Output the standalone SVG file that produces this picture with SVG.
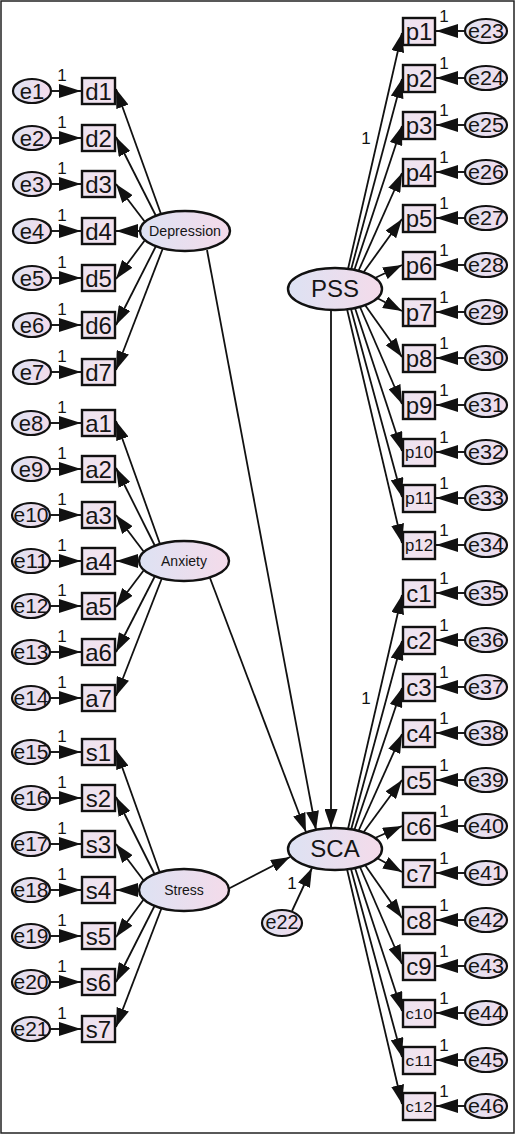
<svg xmlns="http://www.w3.org/2000/svg" width="516" height="1135" viewBox="0 0 516 1135">
<style>
text{font-family:"Liberation Sans",Arial,sans-serif;fill:#151515}
.box{fill:url(#gb);stroke:#111;stroke-width:2.4}
.lat{fill:url(#ge);stroke:#111;stroke-width:2.4}
.err{fill:url(#ge);stroke:#111;stroke-width:2.2}
.le{stroke:#111;stroke-width:1.9;fill:none;marker-end:url(#ah)}
.ll{stroke:#111;stroke-width:1.8;fill:none;marker-end:url(#al)}
.one{font-size:17px;text-anchor:middle;fill:#111}
.bt{font-size:24px;text-anchor:middle}
.bs{font-size:17px;text-anchor:middle}
.bc{font-size:15px;text-anchor:middle}
.et{font-size:22px;text-anchor:middle}
.e3{font-size:20px;text-anchor:middle}
.lt{font-size:14px;text-anchor:middle}
.big{font-size:24px;text-anchor:middle}
</style>
<defs>
<linearGradient id="ge" x1="0" y1="0" x2="1" y2="0"><stop offset="0" stop-color="#dde2f3"/><stop offset="1" stop-color="#f4dbea"/></linearGradient>
<linearGradient id="gb" x1="0" y1="0" x2="1" y2="0"><stop offset="0" stop-color="#ece4f1"/><stop offset="1" stop-color="#f5e1ec"/></linearGradient>
<marker id="ah" viewBox="0 0 22 14" refX="22" refY="7" markerWidth="22" markerHeight="14" markerUnits="userSpaceOnUse" orient="auto"><path d="M0,0 L22,7 L0,14 z" fill="#111"/></marker>
<marker id="al" viewBox="0 0 19 13" refX="19" refY="6.5" markerWidth="19" markerHeight="13" markerUnits="userSpaceOnUse" orient="auto"><path d="M0,0 L19,6.5 L0,13 z" fill="#111"/></marker>
</defs>
<rect x="1" y="1" width="513" height="1132" fill="#fff" stroke="#222" stroke-width="1.5"/>
<g id="connectors">
<line class="le" x1="51" y1="91" x2="81" y2="91"/><line class="le" x1="51" y1="138" x2="81" y2="138"/><line class="le" x1="51" y1="184" x2="81" y2="184"/><line class="le" x1="51" y1="231" x2="81" y2="231"/><line class="le" x1="51" y1="278" x2="81" y2="278"/><line class="le" x1="51" y1="325" x2="81" y2="325"/><line class="le" x1="51" y1="372" x2="81" y2="372"/>
<line class="le" x1="51" y1="423" x2="81" y2="423"/><line class="le" x1="51" y1="469" x2="81" y2="469"/><line class="le" x1="51" y1="515" x2="81" y2="515"/><line class="le" x1="51" y1="561" x2="81" y2="561"/><line class="le" x1="51" y1="606" x2="81" y2="606"/><line class="le" x1="51" y1="652" x2="81" y2="652"/><line class="le" x1="51" y1="698" x2="81" y2="698"/>
<line class="le" x1="51" y1="752" x2="81" y2="752"/><line class="le" x1="51" y1="798" x2="81" y2="798"/><line class="le" x1="51" y1="844" x2="81" y2="844"/><line class="le" x1="51" y1="890" x2="81" y2="890"/><line class="le" x1="51" y1="936" x2="81" y2="936"/><line class="le" x1="51" y1="982" x2="81" y2="982"/><line class="le" x1="51" y1="1029" x2="81" y2="1029"/>
<g class="one"><text x="62" y="81">1</text><text x="62" y="128">1</text><text x="62" y="174">1</text><text x="62" y="221">1</text><text x="62" y="268">1</text><text x="62" y="315">1</text><text x="62" y="362">1</text>
<text x="62" y="413">1</text><text x="62" y="459">1</text><text x="62" y="505">1</text><text x="62" y="551">1</text><text x="62" y="596">1</text><text x="62" y="642">1</text><text x="62" y="688">1</text>
<text x="62" y="742">1</text><text x="62" y="788">1</text><text x="62" y="834">1</text><text x="62" y="880">1</text><text x="62" y="926">1</text><text x="62" y="972">1</text><text x="62" y="1019">1</text></g>
<line class="ll" x1="161" y1="214" x2="116" y2="89"/><line class="ll" x1="156" y1="216" x2="116" y2="137"/><line class="ll" x1="145" y1="222" x2="116" y2="184"/><line class="le" x1="140" y1="231" x2="116" y2="231"/><line class="ll" x1="145" y1="240" x2="116" y2="279"/><line class="ll" x1="156" y1="246" x2="116" y2="325"/><line class="ll" x1="163" y1="248" x2="116" y2="370"/>
<line class="ll" x1="160" y1="544" x2="116" y2="421"/><line class="ll" x1="155" y1="546" x2="116" y2="468"/><line class="ll" x1="144" y1="552" x2="116" y2="515"/><line class="le" x1="139" y1="561" x2="116" y2="561"/><line class="ll" x1="144" y1="570" x2="116" y2="607"/><line class="ll" x1="155" y1="576" x2="116" y2="652"/><line class="ll" x1="162" y1="578" x2="116" y2="696"/>
<line class="ll" x1="160" y1="873" x2="116" y2="750"/><line class="ll" x1="155" y1="875" x2="116" y2="797"/><line class="ll" x1="144" y1="881" x2="116" y2="844"/><line class="le" x1="139" y1="890" x2="116" y2="890"/><line class="ll" x1="144" y1="899" x2="116" y2="937"/><line class="ll" x1="155" y1="905" x2="116" y2="982"/><line class="ll" x1="162" y1="907" x2="116" y2="1027"/>
<line class="ll" x1="207" y1="250" x2="316" y2="830"/>
<line class="ll" x1="210" y1="578" x2="306" y2="832"/>
<line class="ll" x1="228" y1="889" x2="290" y2="857"/>
<line class="ll" x1="331" y1="310" x2="331" y2="828"/>
<line class="ll" x1="292" y1="911" x2="312" y2="868"/>
<text class="one" x="292" y="889">1</text>
<line class="ll" x1="348" y1="269" x2="402" y2="33"/><line class="ll" x1="351" y1="270" x2="402" y2="79"/><line class="ll" x1="354" y1="271" x2="402" y2="126"/><line class="ll" x1="358" y1="272" x2="402" y2="173"/><line class="ll" x1="363" y1="273" x2="402" y2="219"/><line class="ll" x1="375" y1="278" x2="402" y2="265"/><line class="ll" x1="377" y1="298" x2="402" y2="311"/><line class="ll" x1="365" y1="305" x2="402" y2="357"/><line class="ll" x1="360" y1="307" x2="402" y2="404"/><line class="ll" x1="355" y1="308" x2="402" y2="451"/><line class="ll" x1="351" y1="309" x2="402" y2="497"/><line class="ll" x1="347" y1="309" x2="402" y2="543"/>
<text class="one" x="366" y="144">1</text>
<line class="ll" x1="348" y1="829" x2="402" y2="595"/><line class="ll" x1="351" y1="830" x2="402" y2="641"/><line class="ll" x1="354" y1="831" x2="402" y2="688"/><line class="ll" x1="358" y1="832" x2="402" y2="734"/><line class="ll" x1="363" y1="833" x2="402" y2="780"/><line class="ll" x1="375" y1="838" x2="402" y2="826"/><line class="ll" x1="377" y1="858" x2="402" y2="872"/><line class="ll" x1="365" y1="865" x2="402" y2="918"/><line class="ll" x1="360" y1="867" x2="402" y2="964"/><line class="ll" x1="355" y1="868" x2="402" y2="1011"/><line class="ll" x1="351" y1="869" x2="402" y2="1057"/><line class="ll" x1="347" y1="869" x2="402" y2="1104"/>
<text class="one" x="366" y="704">1</text>
<line class="le" x1="465" y1="31" x2="436" y2="31"/><line class="le" x1="465" y1="78" x2="436" y2="78"/><line class="le" x1="465" y1="125" x2="436" y2="125"/><line class="le" x1="465" y1="172" x2="436" y2="172"/><line class="le" x1="465" y1="218" x2="436" y2="218"/><line class="le" x1="465" y1="265" x2="436" y2="265"/><line class="le" x1="465" y1="312" x2="436" y2="312"/><line class="le" x1="465" y1="358" x2="436" y2="358"/><line class="le" x1="465" y1="405" x2="436" y2="405"/><line class="le" x1="465" y1="452" x2="436" y2="452"/><line class="le" x1="465" y1="498" x2="436" y2="498"/><line class="le" x1="465" y1="545" x2="436" y2="545"/>
<line class="le" x1="465" y1="593" x2="436" y2="593"/><line class="le" x1="465" y1="640" x2="436" y2="640"/><line class="le" x1="465" y1="687" x2="436" y2="687"/><line class="le" x1="465" y1="733" x2="436" y2="733"/><line class="le" x1="465" y1="780" x2="436" y2="780"/><line class="le" x1="465" y1="826" x2="436" y2="826"/><line class="le" x1="465" y1="873" x2="436" y2="873"/><line class="le" x1="465" y1="920" x2="436" y2="920"/><line class="le" x1="465" y1="966" x2="436" y2="966"/><line class="le" x1="465" y1="1013" x2="436" y2="1013"/><line class="le" x1="465" y1="1060" x2="436" y2="1060"/><line class="le" x1="465" y1="1106" x2="436" y2="1106"/>
<g class="one"><text x="444" y="22">1</text><text x="444" y="69">1</text><text x="444" y="116">1</text><text x="444" y="163">1</text><text x="444" y="209">1</text><text x="444" y="256">1</text><text x="444" y="303">1</text><text x="444" y="349">1</text><text x="444" y="396">1</text><text x="444" y="443">1</text><text x="444" y="489">1</text><text x="444" y="536">1</text>
<text x="444" y="584">1</text><text x="444" y="631">1</text><text x="444" y="678">1</text><text x="444" y="724">1</text><text x="444" y="771">1</text><text x="444" y="817">1</text><text x="444" y="864">1</text><text x="444" y="911">1</text><text x="444" y="957">1</text><text x="444" y="1004">1</text><text x="444" y="1051">1</text><text x="444" y="1097">1</text></g>
</g>
<g id="Depression"><ellipse class="lat" cx="185" cy="231" rx="45" ry="20"/><text class="lt" x="185" y="236" textLength="72" lengthAdjust="spacingAndGlyphs">Depression</text></g>
<g id="Anxiety"><ellipse class="lat" cx="184" cy="561" rx="45" ry="20"/><text class="lt" x="184" y="566">Anxiety</text></g>
<g id="Stress"><ellipse class="lat" cx="184" cy="890" rx="45" ry="21"/><text class="lt" x="184" y="895">Stress</text></g>
<g id="PSS"><ellipse class="lat" cx="335" cy="289" rx="47" ry="21"/><text class="big" x="335" y="297">PSS</text></g>
<g id="SCA"><ellipse class="lat" cx="335" cy="849" rx="47" ry="21"/><text class="big" x="335" y="857">SCA</text></g>
<g id="e22"><ellipse class="err" cx="282" cy="923" rx="20" ry="13"/><text class="e3" x="282" y="929" font-size="18" textLength="33" lengthAdjust="spacingAndGlyphs">e22</text></g>
<g id="d1"><rect class="box" x="82" y="78" width="33" height="26"/><text class="bt" x="98.5" y="100">d1</text></g>
<g id="d2"><rect class="box" x="82" y="125" width="33" height="26"/><text class="bt" x="98.5" y="147">d2</text></g>
<g id="d3"><rect class="box" x="82" y="171" width="33" height="26"/><text class="bt" x="98.5" y="193">d3</text></g>
<g id="d4"><rect class="box" x="82" y="218" width="33" height="26"/><text class="bt" x="98.5" y="240">d4</text></g>
<g id="d5"><rect class="box" x="82" y="265" width="33" height="26"/><text class="bt" x="98.5" y="287">d5</text></g>
<g id="d6"><rect class="box" x="82" y="312" width="33" height="26"/><text class="bt" x="98.5" y="334">d6</text></g>
<g id="d7"><rect class="box" x="82" y="359" width="33" height="26"/><text class="bt" x="98.5" y="381">d7</text></g>
<g id="a1"><rect class="box" x="82" y="410" width="33" height="26"/><text class="bt" x="98.5" y="432">a1</text></g>
<g id="a2"><rect class="box" x="82" y="456" width="33" height="26"/><text class="bt" x="98.5" y="478">a2</text></g>
<g id="a3"><rect class="box" x="82" y="502" width="33" height="26"/><text class="bt" x="98.5" y="524">a3</text></g>
<g id="a4"><rect class="box" x="82" y="548" width="33" height="26"/><text class="bt" x="98.5" y="570">a4</text></g>
<g id="a5"><rect class="box" x="82" y="593" width="33" height="26"/><text class="bt" x="98.5" y="615">a5</text></g>
<g id="a6"><rect class="box" x="82" y="639" width="33" height="26"/><text class="bt" x="98.5" y="661">a6</text></g>
<g id="a7"><rect class="box" x="82" y="685" width="33" height="26"/><text class="bt" x="98.5" y="707">a7</text></g>
<g id="s1"><rect class="box" x="82" y="739" width="33" height="26"/><text class="bt" x="98.5" y="761">s1</text></g>
<g id="s2"><rect class="box" x="82" y="785" width="33" height="26"/><text class="bt" x="98.5" y="807">s2</text></g>
<g id="s3"><rect class="box" x="82" y="831" width="33" height="26"/><text class="bt" x="98.5" y="853">s3</text></g>
<g id="s4"><rect class="box" x="82" y="877" width="33" height="26"/><text class="bt" x="98.5" y="899">s4</text></g>
<g id="s5"><rect class="box" x="82" y="923" width="33" height="26"/><text class="bt" x="98.5" y="945">s5</text></g>
<g id="s6"><rect class="box" x="82" y="969" width="33" height="26"/><text class="bt" x="98.5" y="991">s6</text></g>
<g id="s7"><rect class="box" x="82" y="1016" width="33" height="26"/><text class="bt" x="98.5" y="1038">s7</text></g>
<g id="e1"><ellipse class="err" cx="32" cy="91" rx="19" ry="12"/><text class="et" x="32" y="99">e1</text></g>
<g id="e2"><ellipse class="err" cx="32" cy="138" rx="19" ry="12"/><text class="et" x="32" y="146">e2</text></g>
<g id="e3"><ellipse class="err" cx="32" cy="184" rx="19" ry="12"/><text class="et" x="32" y="192">e3</text></g>
<g id="e4"><ellipse class="err" cx="32" cy="231" rx="19" ry="12"/><text class="et" x="32" y="239">e4</text></g>
<g id="e5"><ellipse class="err" cx="32" cy="278" rx="19" ry="12"/><text class="et" x="32" y="286">e5</text></g>
<g id="e6"><ellipse class="err" cx="32" cy="325" rx="19" ry="12"/><text class="et" x="32" y="333">e6</text></g>
<g id="e7"><ellipse class="err" cx="32" cy="372" rx="19" ry="12"/><text class="et" x="32" y="380">e7</text></g>
<g id="e8"><ellipse class="err" cx="31" cy="423" rx="19" ry="12"/><text class="et" x="31" y="431">e8</text></g>
<g id="e9"><ellipse class="err" cx="31" cy="469" rx="19" ry="12"/><text class="et" x="31" y="477">e9</text></g>
<g id="e10"><ellipse class="err" cx="31" cy="515" rx="19" ry="12"/><text class="e3" x="31" y="522" textLength="35" lengthAdjust="spacingAndGlyphs">e10</text></g>
<g id="e11"><ellipse class="err" cx="31" cy="561" rx="19" ry="12"/><text class="e3" x="31" y="568" textLength="35" lengthAdjust="spacingAndGlyphs">e11</text></g>
<g id="e12"><ellipse class="err" cx="31" cy="606" rx="19" ry="12"/><text class="e3" x="31" y="613" textLength="35" lengthAdjust="spacingAndGlyphs">e12</text></g>
<g id="e13"><ellipse class="err" cx="31" cy="652" rx="19" ry="12"/><text class="e3" x="31" y="659" textLength="35" lengthAdjust="spacingAndGlyphs">e13</text></g>
<g id="e14"><ellipse class="err" cx="31" cy="698" rx="19" ry="12"/><text class="e3" x="31" y="705" textLength="35" lengthAdjust="spacingAndGlyphs">e14</text></g>
<g id="e15"><ellipse class="err" cx="31" cy="752" rx="19" ry="12"/><text class="e3" x="31" y="759" textLength="35" lengthAdjust="spacingAndGlyphs">e15</text></g>
<g id="e16"><ellipse class="err" cx="31" cy="798" rx="19" ry="12"/><text class="e3" x="31" y="805" textLength="35" lengthAdjust="spacingAndGlyphs">e16</text></g>
<g id="e17"><ellipse class="err" cx="31" cy="844" rx="19" ry="12"/><text class="e3" x="31" y="851" textLength="35" lengthAdjust="spacingAndGlyphs">e17</text></g>
<g id="e18"><ellipse class="err" cx="31" cy="890" rx="19" ry="12"/><text class="e3" x="31" y="897" textLength="35" lengthAdjust="spacingAndGlyphs">e18</text></g>
<g id="e19"><ellipse class="err" cx="31" cy="936" rx="19" ry="12"/><text class="e3" x="31" y="943" textLength="35" lengthAdjust="spacingAndGlyphs">e19</text></g>
<g id="e20"><ellipse class="err" cx="31" cy="982" rx="19" ry="12"/><text class="e3" x="31" y="989" textLength="35" lengthAdjust="spacingAndGlyphs">e20</text></g>
<g id="e21"><ellipse class="err" cx="31" cy="1029" rx="19" ry="12"/><text class="e3" x="31" y="1036" textLength="35" lengthAdjust="spacingAndGlyphs">e21</text></g>
<g id="p1"><rect class="box" x="403" y="18" width="32" height="27"/><text class="bt" x="419" y="40">p1</text></g>
<g id="p2"><rect class="box" x="403" y="65" width="32" height="27"/><text class="bt" x="419" y="87">p2</text></g>
<g id="p3"><rect class="box" x="403" y="112" width="32" height="27"/><text class="bt" x="419" y="134">p3</text></g>
<g id="p4"><rect class="box" x="403" y="159" width="32" height="27"/><text class="bt" x="419" y="181">p4</text></g>
<g id="p5"><rect class="box" x="403" y="205" width="32" height="27"/><text class="bt" x="419" y="227">p5</text></g>
<g id="p6"><rect class="box" x="403" y="252" width="32" height="27"/><text class="bt" x="419" y="274">p6</text></g>
<g id="p7"><rect class="box" x="403" y="299" width="32" height="27"/><text class="bt" x="419" y="321">p7</text></g>
<g id="p8"><rect class="box" x="403" y="345" width="32" height="27"/><text class="bt" x="419" y="367">p8</text></g>
<g id="p9"><rect class="box" x="403" y="392" width="32" height="27"/><text class="bt" x="419" y="414">p9</text></g>
<g id="p10"><rect class="box" x="403" y="439" width="32" height="27"/><text class="bs" x="419" y="458" textLength="28" lengthAdjust="spacingAndGlyphs">p10</text></g>
<g id="p11"><rect class="box" x="403" y="485" width="32" height="27"/><text class="bs" x="419" y="504" textLength="28" lengthAdjust="spacingAndGlyphs">p11</text></g>
<g id="p12"><rect class="box" x="403" y="532" width="32" height="27"/><text class="bs" x="419" y="551" textLength="28" lengthAdjust="spacingAndGlyphs">p12</text></g>
<g id="c1"><rect class="box" x="403" y="580" width="32" height="27"/><text class="bt" x="419" y="602">c1</text></g>
<g id="c2"><rect class="box" x="403" y="627" width="32" height="27"/><text class="bt" x="419" y="649">c2</text></g>
<g id="c3"><rect class="box" x="403" y="674" width="32" height="27"/><text class="bt" x="419" y="696">c3</text></g>
<g id="c4"><rect class="box" x="403" y="720" width="32" height="27"/><text class="bt" x="419" y="742">c4</text></g>
<g id="c5"><rect class="box" x="403" y="767" width="32" height="27"/><text class="bt" x="419" y="789">c5</text></g>
<g id="c6"><rect class="box" x="403" y="813" width="32" height="27"/><text class="bt" x="419" y="835">c6</text></g>
<g id="c7"><rect class="box" x="403" y="860" width="32" height="27"/><text class="bt" x="419" y="882">c7</text></g>
<g id="c8"><rect class="box" x="403" y="907" width="32" height="27"/><text class="bt" x="419" y="929">c8</text></g>
<g id="c9"><rect class="box" x="403" y="953" width="32" height="27"/><text class="bt" x="419" y="975">c9</text></g>
<g id="c10"><rect class="box" x="403" y="1000" width="32" height="27"/><text class="bc" x="419" y="1019" textLength="27" lengthAdjust="spacingAndGlyphs">c10</text></g>
<g id="c11"><rect class="box" x="403" y="1047" width="32" height="27"/><text class="bc" x="419" y="1066" textLength="27" lengthAdjust="spacingAndGlyphs">c11</text></g>
<g id="c12"><rect class="box" x="403" y="1093" width="32" height="27"/><text class="bc" x="419" y="1112" textLength="27" lengthAdjust="spacingAndGlyphs">c12</text></g>
<g id="e23"><ellipse class="err" cx="486" cy="31" rx="21" ry="12"/><text class="e3" x="486" y="38" textLength="36" lengthAdjust="spacingAndGlyphs">e23</text></g>
<g id="e24"><ellipse class="err" cx="486" cy="78" rx="21" ry="12"/><text class="e3" x="486" y="85" textLength="36" lengthAdjust="spacingAndGlyphs">e24</text></g>
<g id="e25"><ellipse class="err" cx="486" cy="125" rx="21" ry="12"/><text class="e3" x="486" y="132" textLength="36" lengthAdjust="spacingAndGlyphs">e25</text></g>
<g id="e26"><ellipse class="err" cx="486" cy="172" rx="21" ry="12"/><text class="e3" x="486" y="179" textLength="36" lengthAdjust="spacingAndGlyphs">e26</text></g>
<g id="e27"><ellipse class="err" cx="486" cy="218" rx="21" ry="12"/><text class="e3" x="486" y="225" textLength="36" lengthAdjust="spacingAndGlyphs">e27</text></g>
<g id="e28"><ellipse class="err" cx="486" cy="265" rx="21" ry="12"/><text class="e3" x="486" y="272" textLength="36" lengthAdjust="spacingAndGlyphs">e28</text></g>
<g id="e29"><ellipse class="err" cx="486" cy="312" rx="21" ry="12"/><text class="e3" x="486" y="319" textLength="36" lengthAdjust="spacingAndGlyphs">e29</text></g>
<g id="e30"><ellipse class="err" cx="486" cy="358" rx="21" ry="12"/><text class="e3" x="486" y="365" textLength="36" lengthAdjust="spacingAndGlyphs">e30</text></g>
<g id="e31"><ellipse class="err" cx="486" cy="405" rx="21" ry="12"/><text class="e3" x="486" y="412" textLength="36" lengthAdjust="spacingAndGlyphs">e31</text></g>
<g id="e32"><ellipse class="err" cx="486" cy="452" rx="21" ry="12"/><text class="e3" x="486" y="459" textLength="36" lengthAdjust="spacingAndGlyphs">e32</text></g>
<g id="e33"><ellipse class="err" cx="486" cy="498" rx="21" ry="12"/><text class="e3" x="486" y="505" textLength="36" lengthAdjust="spacingAndGlyphs">e33</text></g>
<g id="e34"><ellipse class="err" cx="486" cy="545" rx="21" ry="12"/><text class="e3" x="486" y="552" textLength="36" lengthAdjust="spacingAndGlyphs">e34</text></g>
<g id="e35"><ellipse class="err" cx="486" cy="593" rx="21" ry="12"/><text class="e3" x="486" y="600" textLength="36" lengthAdjust="spacingAndGlyphs">e35</text></g>
<g id="e36"><ellipse class="err" cx="486" cy="640" rx="21" ry="12"/><text class="e3" x="486" y="647" textLength="36" lengthAdjust="spacingAndGlyphs">e36</text></g>
<g id="e37"><ellipse class="err" cx="486" cy="687" rx="21" ry="12"/><text class="e3" x="486" y="694" textLength="36" lengthAdjust="spacingAndGlyphs">e37</text></g>
<g id="e38"><ellipse class="err" cx="486" cy="733" rx="21" ry="12"/><text class="e3" x="486" y="740" textLength="36" lengthAdjust="spacingAndGlyphs">e38</text></g>
<g id="e39"><ellipse class="err" cx="486" cy="780" rx="21" ry="12"/><text class="e3" x="486" y="787" textLength="36" lengthAdjust="spacingAndGlyphs">e39</text></g>
<g id="e40"><ellipse class="err" cx="486" cy="826" rx="21" ry="12"/><text class="e3" x="486" y="833" textLength="36" lengthAdjust="spacingAndGlyphs">e40</text></g>
<g id="e41"><ellipse class="err" cx="486" cy="873" rx="21" ry="12"/><text class="e3" x="486" y="880" textLength="36" lengthAdjust="spacingAndGlyphs">e41</text></g>
<g id="e42"><ellipse class="err" cx="486" cy="920" rx="21" ry="12"/><text class="e3" x="486" y="927" textLength="36" lengthAdjust="spacingAndGlyphs">e42</text></g>
<g id="e43"><ellipse class="err" cx="486" cy="966" rx="21" ry="12"/><text class="e3" x="486" y="973" textLength="36" lengthAdjust="spacingAndGlyphs">e43</text></g>
<g id="e44"><ellipse class="err" cx="486" cy="1013" rx="21" ry="12"/><text class="e3" x="486" y="1020" textLength="36" lengthAdjust="spacingAndGlyphs">e44</text></g>
<g id="e45"><ellipse class="err" cx="486" cy="1060" rx="21" ry="12"/><text class="e3" x="486" y="1067" textLength="36" lengthAdjust="spacingAndGlyphs">e45</text></g>
<g id="e46"><ellipse class="err" cx="486" cy="1106" rx="21" ry="12"/><text class="e3" x="486" y="1113" textLength="36" lengthAdjust="spacingAndGlyphs">e46</text></g>
</svg>
